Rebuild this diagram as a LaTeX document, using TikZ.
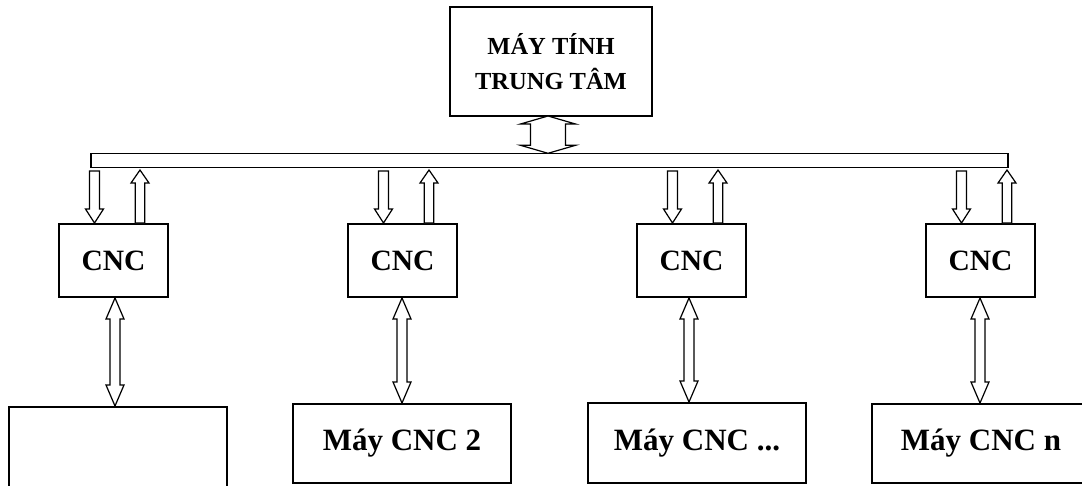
\documentclass[tikz,border=0pt]{standalone}
\usepackage{fontspec}
\setmainfont{Liberation Serif}
\usetikzlibrary{calc}
\tikzset{
  box/.style={draw, line width=2pt, rectangle, inner sep=0pt, font=\bfseries},
  busbar/.style={draw, line width=1.4pt, rectangle, inner sep=0pt},
  arr/.style={draw, line width=1.2pt, fill=white, line join=miter},
}
% double vertical block arrow: top tip, bottom tip, shaft half width, head half width, head length
\newcommand{\dblarrow}[5]{%
  \draw[arr] (#1) -- ($(#1)+(#4,#5)$) -- ($(#1)+(#3,#5)$) -- ($(#2)+(#3,-#5)$) -- ($(#2)+(#4,-#5)$) -- (#2)
    -- ($(#2)+(-#4,-#5)$) -- ($(#2)+(-#3,-#5)$) -- ($(#1)+(-#3,#5)$) -- ($(#1)+(-#4,#5)$) -- cycle;}
% single vertical block arrow: start, tip, shaft half width, head half width, signed head length
\newcommand{\sglarrow}[5]{%
  \draw[arr] ($(#1)+(-#3,0)$) -- ($(#2)+(-#3,-#5)$) -- ($(#2)+(-#4,-#5)$) -- (#2)
    -- ($(#2)+(#4,-#5)$) -- ($(#2)+(#3,-#5)$) -- ($(#1)+(#3,0)$) -- cycle;}
\begin{document}
\begin{tikzpicture}[x=1pt,y=-1pt]
\useasboundingbox (0,0) rectangle (1082,485);
\clip (0,0) rectangle (1082,485);

% central computer
\node[box, minimum width=202pt, minimum height=109pt, align=center,
      font=\bfseries\fontsize{24.5}{35}\selectfont] (top) at (551,61.5) {MÁY TÍNH\\TRUNG TÂM};

% bus
\node[busbar, minimum width=917pt, minimum height=14.5pt] (bus) at (549.5,160.5) {};

% CNC controllers
\foreach \i/\cx in {1/113.5, 2/402.5, 3/691.5, 4/980.5}{
  \node[box, minimum width=109pt, minimum height=73pt,
        font=\bfseries\fontsize{29.5}{34}\selectfont] (cnc\i) at (\cx,260.5) {CNC};
}

% machines
\node[box, minimum width=218pt, minimum height=81pt] (m1) at (118,447.5) {};
\node[box, minimum width=218pt, minimum height=79pt, font=\bfseries\fontsize{31}{36}\selectfont] (m2) at (402,443.5) {Máy CNC 2};
\node[box, minimum width=218pt, minimum height=80pt, font=\bfseries\fontsize{31}{36}\selectfont] (m3) at (697,443) {Máy CNC ...};
\node[box, minimum width=218pt, minimum height=79pt, font=\bfseries\fontsize{31}{36}\selectfont] (m4) at (981,443.5) {Máy CNC n};

% top double arrow between computer and bus
\coordinate (tA) at (548,116);
\coordinate (tB) at (548,153.3);
\dblarrow{tA}{tB}{17.5}{27.5}{8}

% bus <-> CNC arrows
\foreach \i/\l in {1/59, 2/348, 3/637, 4/926}{
  \coordinate (d\i s) at (\l+35.5,171);
  \coordinate (d\i t) at (cnc\i.north -| d\i s);
  \sglarrow{d\i s}{d\i t}{5}{9}{14}
  \coordinate (u\i s) at (cnc\i.north -| {\l+81,0});
  \coordinate (u\i t) at (\l+81,170);
  \sglarrow{u\i s}{u\i t}{4.8}{9}{-13}
}

% CNC <-> machine double arrows
\foreach \i/\x in {1/115, 2/402, 3/689, 4/980}{
  \coordinate (v\i a) at (cnc\i.south -| {\x,0});
  \coordinate (v\i b) at (m\i.north -| {\x,0});
  \dblarrow{v\i a}{v\i b}{5}{9}{21}
}
\end{tikzpicture}
\end{document}
